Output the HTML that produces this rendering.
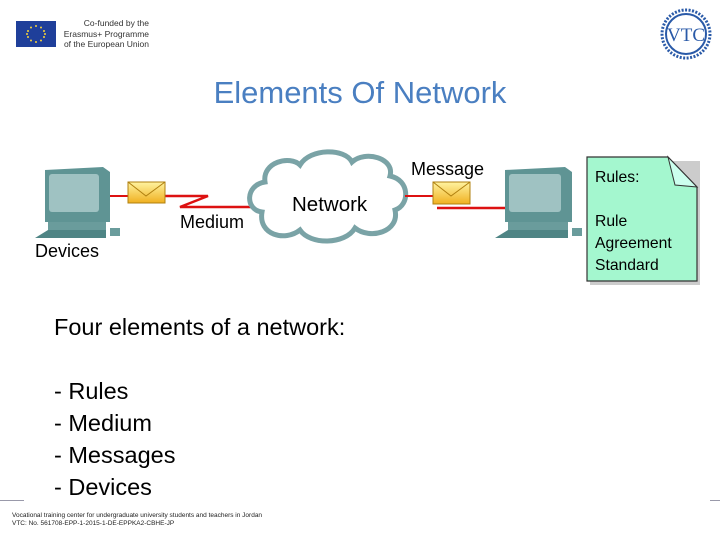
<!DOCTYPE html>
<html><head><style>
body{margin:0;width:720px;height:540px;background:#fff;position:relative;overflow:hidden;font-family:"Liberation Sans",sans-serif}
.a{position:absolute;white-space:nowrap}
</style></head><body>
<div class="a" style="left:16px;top:21px;width:40px;height:26px;background:#1f3f9a"></div>
<svg class="a" style="left:16px;top:21px" width="40" height="26"><g fill="#f5d33a"><circle cx="20" cy="5" r="1"/><circle cx="25" cy="6.5" r="1"/><circle cx="28" cy="10" r="1"/><circle cx="29" cy="13" r="1"/><circle cx="28" cy="16" r="1"/><circle cx="25" cy="19.5" r="1"/><circle cx="20" cy="21" r="1"/><circle cx="15" cy="19.5" r="1"/><circle cx="12" cy="16" r="1"/><circle cx="11" cy="13" r="1"/><circle cx="12" cy="10" r="1"/><circle cx="15" cy="6.5" r="1"/></g></svg>
<div class="a" style="left:62px;top:18px;font-size:8.5px;line-height:10.5px;color:#333;text-align:right;width:87px">Co-funded by the<br>Erasmus+ Programme<br>of the European Union</div>
<svg class="a" style="left:660px;top:8px" width="52" height="52"><circle cx="26" cy="26" r="24" fill="none" stroke="#2a5aa8" stroke-width="3" stroke-dasharray="2 1.5"/><circle cx="26" cy="26" r="20" fill="#fff" stroke="#2a5aa8" stroke-width="2"/><text x="26" y="33" font-family="Liberation Serif" font-size="19" fill="#2a5aa8" text-anchor="middle">VTC</text></svg>
<div class="a" style="left:0;width:720px;top:75px;text-align:center;font-size:31px;color:#4a7fc1">Elements Of Network</div>

<svg class="a" style="left:0;top:140px" width="720" height="160">
<defs><linearGradient id="env" x1="0" y1="0" x2="0" y2="1"><stop offset="0" stop-color="#fff3a0"/><stop offset="1" stop-color="#f0b020"/></linearGradient></defs>
<polygon points="45,30 103,27 110,32 110,82 45,82" fill="#5f9494"/>
<rect x="49" y="34" width="50" height="38" rx="3" fill="#9fc2c2"/>
<rect x="48" y="82" width="58" height="8" fill="#6a9c9c"/>
<polygon points="35,98 48,90 106,90 106,98" fill="#4f8585"/>
<rect x="110" y="88" width="10" height="8" fill="#6a9c9c"/>
<polyline points="110,56 128,56" stroke="#d11" stroke-width="2" fill="none"/>
<polyline points="165,56 208,56 180,67 252,67" stroke="#d11" stroke-width="2.5" fill="none"/>
<rect x="128" y="42" width="37" height="21" fill="url(#env)" stroke="#b08010"/><polyline points="128,42 146,56 165,42" fill="none" stroke="#b08010"/>
<path d="M262,72 C245,70 245,45 265,42 C262,22 290,15 300,25 C310,8 345,8 352,22 C365,10 395,18 390,36 C410,40 410,65 395,70 C400,92 370,100 355,88 C345,105 310,105 300,90 C285,102 258,95 262,72 Z" fill="#fff" stroke="#7aa3a6" stroke-width="5"/>
<polyline points="405,56 433,56" stroke="#d11" stroke-width="2" fill="none"/>
<polyline points="437,68 505,68" stroke="#d11" stroke-width="2.5" fill="none"/>
<rect x="433" y="42" width="37" height="22" fill="url(#env)" stroke="#b08010"/><polyline points="433,42 451,56 470,42" fill="none" stroke="#b08010"/>
<polygon points="505,30 565,27 572,32 572,82 505,82" fill="#5f9494"/>
<rect x="509" y="34" width="52" height="38" rx="3" fill="#9fc2c2"/>
<rect x="508" y="82" width="60" height="8" fill="#6a9c9c"/>
<polygon points="495,98 508,90 568,90 568,98" fill="#4f8585"/>
<rect x="572" y="88" width="10" height="8" fill="#6a9c9c"/>
<polygon points="590,21 700,21 700,145 590,145" fill="#ccc"/>
<polygon points="587,17 668,17 697,47 697,141 587,141" fill="#a4f7cf" stroke="#333" stroke-width="1.2"/>
<polygon points="668,17 697,47 675,45" fill="#cfe" stroke="#333" stroke-width="1"/>
</svg>
<div class="a" style="left:180px;top:212px;font-size:18px">Medium</div>
<div class="a" style="left:35px;top:241px;font-size:18px">Devices</div>
<div class="a" style="left:292px;top:193px;font-size:20.5px">Network</div>
<div class="a" style="left:411px;top:159px;font-size:18px">Message</div>
<div class="a" style="left:595px;top:167px;font-size:15.7px;line-height:22px">Rules:<br><br>Rule<br>Agreement<br>Standard</div>
<div class="a" style="left:54px;top:311px;font-size:23.5px;line-height:32px">Four elements of a network:<br><br>- Rules<br>- Medium<br>- Messages<br>- Devices</div>
<div class="a" style="left:0;top:500px;width:24px;height:1px;background:#99a"></div>
<div class="a" style="left:710px;top:500px;width:10px;height:1px;background:#99a"></div>
<div class="a" style="left:12px;top:512px;font-size:6.5px;line-height:7.5px;color:#222">Vocational training center for undergraduate university students and teachers in Jordan<br>VTC: No. 561708-EPP-1-2015-1-DE-EPPKA2-CBHE-JP</div>
</body></html>
